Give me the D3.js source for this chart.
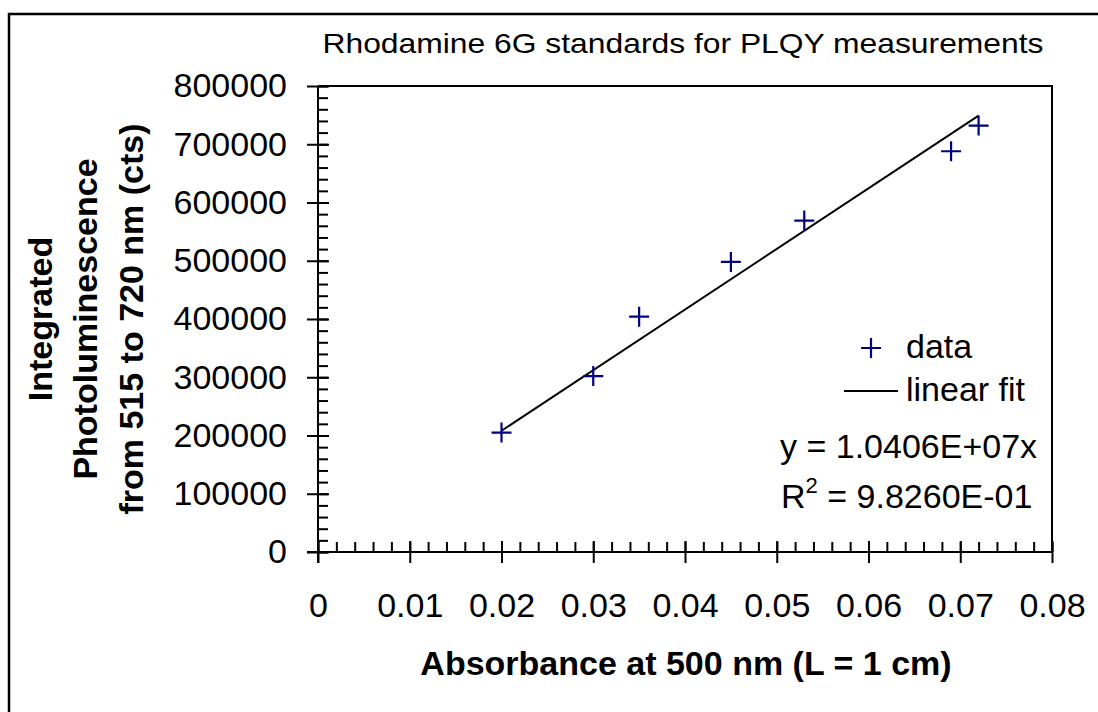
<!DOCTYPE html>
<html>
<head>
<meta charset="utf-8">
<script src="https://cdn.jsdelivr.net/npm/d3@7"></script>
<style>
  body { margin: 0; background: #fff; }
  text { font-family: "Liberation Sans", Arial, sans-serif; fill: #000; }
</style>
</head>
<body>
<script>
const absorbance = [0.02, 0.03, 0.035, 0.045, 0.053, 0.069, 0.072];
const plCounts   = [205000, 302000, 404000, 498000, 569000, 688000, 732000];
const slope = 1.0406e7;
const rSquared = "9.8260E-01";
const xTicks = [0, 0.01, 0.02, 0.03, 0.04, 0.05, 0.06, 0.07, 0.08];
const yTicks = [0, 100000, 200000, 300000, 400000, 500000, 600000, 700000, 800000];
const yTitleLines = ["Integrated", "Photoluminescence", "from 515 to 720 nm (cts)"];

const w = 1098, h = 712;
const pLeft = 318, pRight = 1052, pTop = 86, pBottom = 552;

const svg = d3.select("body").append("svg").attr("width", w).attr("height", h);

// outer chart frame (runs off the right and bottom edges)
svg.append("rect")
  .attr("x", 9).attr("y", 14).attr("width", 1200).attr("height", 900)
  .attr("fill", "none").attr("stroke", "#000").attr("stroke-width", 2.5);

const x = d3.scaleLinear().domain([0, 0.08]).range([pLeft, pRight]);
const y = d3.scaleLinear().domain([0, 800000]).range([pBottom, pTop]);

// plot area box (top and right edges)
svg.append("path")
  .attr("d", `M${pLeft},${pTop}H${pRight}V${pBottom}`)
  .attr("fill", "none").attr("stroke", "#000").attr("stroke-width", 2);

// minor ticks
const xMinor = d3.range(0, 41).map(i => i * 0.002);
const yMinor = d3.range(0, 41).map(i => i * 20000);

svg.append("g").attr("transform", `translate(0,${pBottom})`)
  .call(d3.axisTop(x).tickValues(xMinor).tickSize(10).tickFormat(""))
  .call(g => g.select(".domain").remove())
  .selectAll("line").attr("stroke-width", 2);

svg.append("g").attr("transform", `translate(${pLeft},0)`)
  .call(d3.axisRight(y).tickValues(yMinor).tickSize(10).tickFormat(""))
  .call(g => g.select(".domain").remove())
  .selectAll("line").attr("stroke-width", 2);

// major ticks cross the axis
const xAxis = svg.append("g").attr("transform", `translate(0,${pBottom})`)
  .call(d3.axisBottom(x).tickValues(xTicks).tickSize(11).tickPadding(30)
    .tickFormat(d => d === 0 ? "0" : d3.format(".2f")(d)));
xAxis.select(".domain").remove();
xAxis.selectAll("line").attr("y1", -11).attr("stroke-width", 2);
xAxis.selectAll("text").attr("font-size", 34).attr("font-family", null);

const yAxis = svg.append("g").attr("transform", `translate(${pLeft},0)`)
  .call(d3.axisLeft(y).tickValues(yTicks).tickSize(11).tickPadding(20).tickFormat(d3.format("d")));
yAxis.select(".domain").remove();
yAxis.selectAll("line").attr("x1", 11).attr("stroke-width", 2);
yAxis.selectAll("text").attr("font-size", 34).attr("font-family", null);

// axis lines
svg.append("line").attr("x1", pLeft - 11).attr("x2", pRight).attr("y1", pBottom).attr("y2", pBottom)
  .attr("stroke", "#000").attr("stroke-width", 2);
svg.append("line").attr("x1", pLeft).attr("x2", pLeft).attr("y1", pTop).attr("y2", pBottom + 11)
  .attr("stroke", "#000").attr("stroke-width", 2);

// linear fit through origin, over the data range
const xr = d3.extent(absorbance);
svg.append("line")
  .attr("x1", x(xr[0])).attr("y1", y(slope * xr[0]))
  .attr("x2", x(xr[1])).attr("y2", y(slope * xr[1]))
  .attr("stroke", "#000").attr("stroke-width", 2);

// data markers
const m = 10;
svg.append("g").selectAll("path")
  .data(absorbance)
  .enter().append("path")
  .attr("d", (d, i) => {
    const cx = x(d), cy = y(plCounts[i]);
    return `M${cx - m},${cy}H${cx + m}M${cx},${cy - m}V${cy + m}`;
  })
  .attr("stroke", "#000080").attr("stroke-width", 2.2).attr("fill", "none");

// title
svg.append("text")
  .attr("x", 683).attr("y", 53).attr("text-anchor", "middle")
  .attr("font-size", 28).attr("textLength", 721).attr("lengthAdjust", "spacingAndGlyphs")
  .text("Rhodamine 6G standards for PLQY measurements");

// x title
svg.append("text")
  .attr("x", 686).attr("y", 675).attr("text-anchor", "middle")
  .attr("font-size", 34).attr("font-weight", "bold")
  .text("Absorbance at 500 nm (L = 1 cm)");

// y title
const yBase = [51.5, 96.5, 143];
svg.append("g").selectAll("text")
  .data(yTitleLines)
  .enter().append("text")
  .attr("transform", (d, i) => `translate(${yBase[i]},319) rotate(-90)`)
  .attr("text-anchor", "middle")
  .attr("font-size", 34).attr("font-weight", "bold")
  .text(d => d);

// legend
svg.append("path")
  .attr("d", `M${871 - m},348H${871 + m}M871,${348 - m}V${348 + m}`)
  .attr("stroke", "#000080").attr("stroke-width", 2.2);
svg.append("text").attr("x", 906).attr("y", 358).attr("font-size", 34).text("data");
svg.append("line").attr("x1", 844).attr("x2", 898).attr("y1", 391).attr("y2", 391)
  .attr("stroke", "#000").attr("stroke-width", 2);
svg.append("text").attr("x", 906).attr("y", 401).attr("font-size", 34).text("linear fit");

// equation
svg.append("text").attr("x", 780).attr("y", 458).attr("font-size", 34)
  .text("y = " + slope.toExponential(4).toUpperCase().replace("E+", "E+0") + "x");
const r2 = svg.append("text").attr("x", 781).attr("y", 508).attr("font-size", 34);
r2.append("tspan").text("R");
r2.append("tspan").attr("font-size", 22).attr("dy", -15).text("2");
r2.append("tspan").attr("dy", 15).text(" = " + rSquared);
</script>
</body>
</html>
